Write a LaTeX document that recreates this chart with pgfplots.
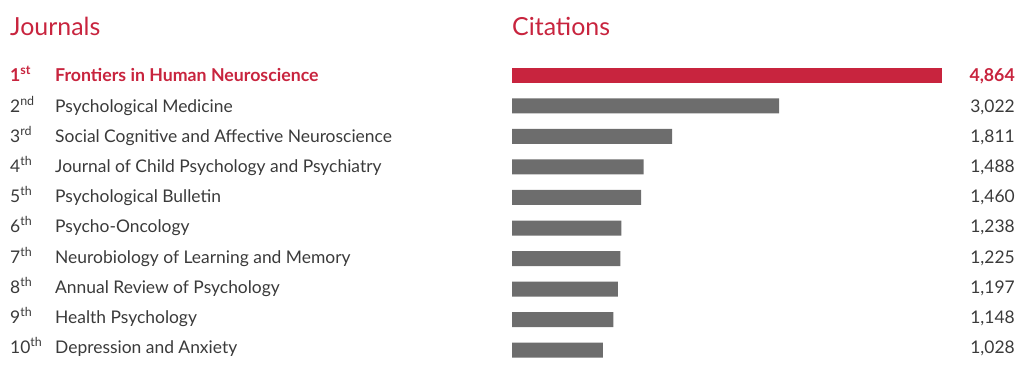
\documentclass[border=0pt]{standalone}
\usepackage{pgfplots}
\pgfplotsset{compat=1.18}
\usepackage{fontspec}
\setmainfont{Lato}[Numbers=Lining]
\definecolor{fred}{HTML}{C8243E}
\definecolor{fgrey}{HTML}{6D6D6D}
\definecolor{ftext}{HTML}{3A3A3A}
\newcommand{\rk}[1]{\raisebox{0.8ex}{\fontsize{12.5}{12.5}\selectfont #1}}
\begin{document}
\begin{tikzpicture}
\begin{axis}[scale only axis, width=1024bp, height=377bp, hide axis,
  xmin=-5792, xmax=5792, ymin=-1.475, ymax=10.885, y dir=reverse,
  clip=false, xbar, bar width=15bp, bar shift=0pt]
\tikzset{lbl/.style={font=\fontsize{17.5}{20}\selectfont, text=ftext, inner sep=0pt},
         hl/.style={font=\fontsize{17.8}{20}\selectfont\bfseries, text=fred, inner sep=0pt},
         hd/.style={font=\fontsize{25}{29}\selectfont, text=fred, inner sep=0pt, anchor=base west}}
\path (rel axis cs:0,0) rectangle (rel axis cs:1,1);
\addplot[fill=fred, draw=none] coordinates {(4864,1)};
\addplot[fill=fgrey, draw=none] coordinates {(3022,2) (1811,3) (1488,4) (1460,5) (1238,6) (1225,7) (1197,8) (1148,9) (1028,10)};
% headers
\node[hd] at (axis cs:-5679,-0.327) {Journals};
\node[hd] at (axis cs:0,-0.327) {Citations};
% ranks
\node[hl, anchor=base west] at (axis cs:-5679,1.213) {1\rk{st}};
\node[lbl, anchor=base west] at (axis cs:-5679,2.203) {2\rk{nd}};
\node[lbl, anchor=base west] at (axis cs:-5679,3.193) {3\rk{rd}};
\node[lbl, anchor=base west] at (axis cs:-5679,4.183) {4\rk{th}};
\node[lbl, anchor=base west] at (axis cs:-5679,5.173) {5\rk{th}};
\node[lbl, anchor=base west] at (axis cs:-5679,6.163) {6\rk{th}};
\node[lbl, anchor=base west] at (axis cs:-5679,7.152) {7\rk{th}};
\node[lbl, anchor=base west] at (axis cs:-5679,8.142) {8\rk{th}};
\node[lbl, anchor=base west] at (axis cs:-5679,9.132) {9\rk{th}};
\node[lbl, anchor=base west] at (axis cs:-5679,10.122) {10\rk{th}};
% names
\node[hl, anchor=base west] at (axis cs:-5170,1.213) {Frontiers in Human Neuroscience};
\node[lbl, anchor=base west] at (axis cs:-5170,2.203) {Psychological Medicine};
\node[lbl, anchor=base west] at (axis cs:-5170,3.193) {Social Cognitive and Affective Neuroscience};
\node[lbl, anchor=base west] at (axis cs:-5170,4.183) {Journal of Child Psychology and Psychiatry};
\node[lbl, anchor=base west] at (axis cs:-5170,5.173) {Psychological Bulletin};
\node[lbl, anchor=base west] at (axis cs:-5170,6.163) {Psycho-Oncology};
\node[lbl, anchor=base west] at (axis cs:-5170,7.152) {Neurobiology of Learning and Memory};
\node[lbl, anchor=base west] at (axis cs:-5170,8.142) {Annual Review of Psychology};
\node[lbl, anchor=base west] at (axis cs:-5170,9.132) {Health Psychology};
\node[lbl, anchor=base west] at (axis cs:-5170,10.122) {Depression and Anxiety};
% values
\node[hl, anchor=base east] at (axis cs:5690,1.213) {4,864};
\node[lbl, anchor=base east] at (axis cs:5690,2.203) {3,022};
\node[lbl, anchor=base east] at (axis cs:5690,3.193) {1,811};
\node[lbl, anchor=base east] at (axis cs:5690,4.183) {1,488};
\node[lbl, anchor=base east] at (axis cs:5690,5.173) {1,460};
\node[lbl, anchor=base east] at (axis cs:5690,6.163) {1,238};
\node[lbl, anchor=base east] at (axis cs:5690,7.152) {1,225};
\node[lbl, anchor=base east] at (axis cs:5690,8.142) {1,197};
\node[lbl, anchor=base east] at (axis cs:5690,9.132) {1,148};
\node[lbl, anchor=base east] at (axis cs:5690,10.122) {1,028};
\end{axis}
\end{tikzpicture}
\end{document}
